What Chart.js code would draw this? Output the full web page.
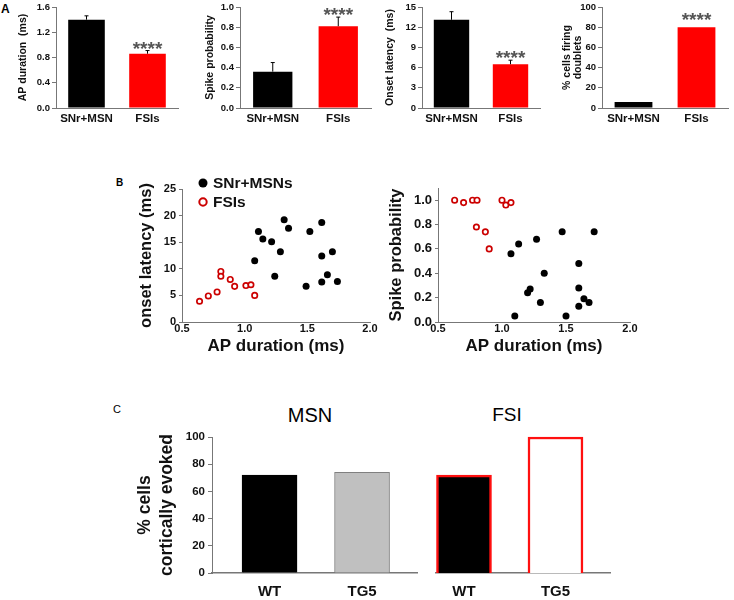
<!DOCTYPE html>
<html>
<head>
<meta charset="utf-8">
<script src="https://cdn.jsdelivr.net/npm/chart.js@4.4.1/dist/chart.umd.min.js"></script>
<style>
  body { margin: 0; background: #fff; }
  #fig { position: relative; width: 734px; height: 600px; font-family: "Liberation Sans", Arial, sans-serif; color: #000; }
  #fig canvas { position: absolute; }
  .tag { position: absolute; line-height: 1; }
</style>
</head>
<body>
<div id="fig">
  <div class="tag" style="left:1px;top:3px;font-size:12px;font-weight:bold">A</div>
  <div class="tag" style="left:116px;top:178px;font-size:10px;font-weight:bold">B</div>
  <div class="tag" style="left:113px;top:404px;font-size:11px">C</div>
  <div class="tag" style="left:260px;top:405px;width:100px;text-align:center;font-size:20px">MSN</div>
  <div class="tag" style="left:457px;top:405px;width:100px;text-align:center;font-size:19px">FSI</div>

  <canvas id="a1" width="185" height="130" style="left:0;top:0"></canvas>
  <canvas id="a2" width="190" height="130" style="left:185px;top:0"></canvas>
  <canvas id="a3" width="180" height="130" style="left:365px;top:0"></canvas>
  <canvas id="a4" width="189" height="130" style="left:545px;top:0"></canvas>
  <canvas id="b1" width="270" height="190" style="left:110px;top:175px"></canvas>
  <canvas id="b2" width="270" height="190" style="left:370px;top:175px"></canvas>
  <canvas id="c1" width="325" height="205" style="left:100px;top:395px"></canvas>
  <canvas id="c2" width="200" height="205" style="left:420px;top:395px"></canvas>
</div>
<script>
// ---- Panel A: group means, upward error bars, significance marks
const groupsA = ['SNr+MSN', 'FSIs'];
const apDuration = [1.40, 0.86];
const apDurationErr = [0.06, 0.05];
const spikeProb = [0.36, 0.81];
const spikeProbErr = [0.09, 0.09];
const onsetLatency = [13.1, 6.5];
const onsetLatencyErr = [1.2, 0.6];
const doublets = [6, 80];
const sigMarks = ['', '****'];

// ---- Panel B left: AP duration (ms) vs onset latency (ms)
const msnApL = [1.08, 1.11, 1.145, 1.215, 1.24, 1.285, 1.315, 1.35, 1.49, 1.52, 1.615, 1.615, 1.615, 1.66, 1.70, 1.74];
const msnOnset = [11.5, 17.0, 15.6, 15.1, 8.6, 13.2, 19.2, 17.6, 6.7, 17.0, 18.7, 12.4, 7.5, 8.9, 13.2, 7.6];
const fsiApL = [0.64, 0.71, 0.78, 0.81, 0.81, 0.885, 0.92, 1.01, 1.05, 1.08];
const fsiOnset = [3.9, 4.9, 5.65, 9.5, 8.6, 8.0, 6.7, 6.85, 7.0, 5.0];
const onsetTicks = [0, 5, 10, 15, 20, 25];

// ---- Panel B right: AP duration (ms) vs spike probability
const msnApR = [1.07, 1.13, 1.27, 1.47, 1.72, 1.60, 1.33, 1.20, 1.22, 1.30, 1.60, 1.64, 1.68, 1.60, 1.10, 1.50];
const msnSpike = [0.56, 0.64, 0.68, 0.74, 0.74, 0.48, 0.40, 0.24, 0.27, 0.16, 0.28, 0.19, 0.16, 0.13, 0.05, 0.05];
const fsiApR = [0.63, 0.70, 0.77, 0.805, 0.80, 0.87, 0.90, 1.00, 1.03, 1.07];
const fsiSpike = [1.00, 0.98, 1.00, 1.00, 0.78, 0.74, 0.60, 1.00, 0.96, 0.98];
const spikeTicks = [0, 0.2, 0.4, 0.6, 0.8, 1.0];

// ---- Panel C: % cells cortically evoked
const cGroups = ['WT', 'TG5'];
const cIndex = [1, 2];
const msnEvoked = [72, 74];
const fsiEvoked = [72, 100];

const FONT = '"Liberation Sans", Arial, sans-serif';
const AXIS = '#777';
const TEXT = '#111';

Chart.defaults.font.family = FONT;
Chart.defaults.color = TEXT;
Chart.defaults.plugins.legend.display = false;
Chart.defaults.plugins.tooltip.enabled = false;

// fixed axis sizes so the plot areas land where the figure has them
const fitW = w => s => { s.width = w; s.paddingTop = s.paddingBottom = s.paddingLeft = s.paddingRight = 0; };
const fitH = h => s => { s.height = h; s.paddingTop = s.paddingBottom = s.paddingLeft = s.paddingRight = 0; };

const bold = (size, lineHeight) => ({ size, weight: 'bold', lineHeight: lineHeight || 1.2 });

// error bars (upward only) + "****" marks
const errorBars = {
  id: 'errorBars',
  afterDatasetsDraw(chart) {
    const { ctx, scales: { y } } = chart;
    chart.data.datasets.forEach((ds, di) => {
      const meta = chart.getDatasetMeta(di);
      meta.data.forEach((bar, i) => {
        const err = ds.errors ? ds.errors[i] : 0;
        const top = y.getPixelForValue(ds.data[i] + err);
        ctx.save();
        if (err) {
          ctx.strokeStyle = '#000';
          ctx.lineWidth = 1;
          ctx.beginPath();
          ctx.moveTo(bar.x, bar.y);
          ctx.lineTo(bar.x, top);
          ctx.moveTo(bar.x - 2, top);
          ctx.lineTo(bar.x + 2, top);
          ctx.stroke();
        }
        if (ds.marks && ds.marks[i]) {
          ctx.fillStyle = '#555';
          ctx.font = 'bold 19px ' + FONT;
          ctx.textAlign = 'center';
          ctx.textBaseline = 'alphabetic';
          ctx.fillText(ds.marks[i], bar.x, top + 4 - (ds.markGap || 0));
        }
        ctx.restore();
      });
    });
  }
};

// marker legend drawn inside the plot, next to the top-left corner
const dotLegend = {
  id: 'dotLegend',
  afterDraw(chart, args, opts) {
    if (!opts.display) return;
    const { ctx, chartArea } = chart;
    ctx.save();
    ctx.font = 'bold 15.5px ' + FONT;
    ctx.textBaseline = 'middle';
    chart.data.datasets.forEach((ds, i) => {
      const x = chartArea.left + opts.x;
      const y = chartArea.top + opts.y + i * opts.gap;
      ctx.beginPath();
      ctx.arc(x, y, ds.pointRadius + 1, 0, Math.PI * 2);
      ctx.fillStyle = ds.pointBackgroundColor;
      ctx.fill();
      if (ds.pointBorderWidth) {
        ctx.lineWidth = ds.pointBorderWidth + 0.3;
        ctx.strokeStyle = ds.pointBorderColor;
        ctx.stroke();
      }
      ctx.fillStyle = TEXT;
      ctx.fillText(ds.label, x + 10, y + 1);
    });
    ctx.restore();
  }
};

function barPanel(id, o) {
  return new Chart(document.getElementById(id), {
    type: 'bar',
    data: {
      labels: groupsA,
      datasets: [{
        data: o.values,
        errors: o.errors,
        marks: sigMarks,
        markGap: o.markGap,
        backgroundColor: ['#000000', '#ff0000'],
        borderWidth: 0,
        barPercentage: 0.6,
        categoryPercentage: 1,
      }],
    },
    options: {
      responsive: false,
      animation: false,
      devicePixelRatio: 1,
      layout: { padding: { left: 0, right: o.padRight, top: 7, bottom: 0 } },
      scales: {
        x: {
          grid: { display: false, drawTicks: false },
          border: { color: AXIS },
          ticks: { padding: 4, color: TEXT, font: bold(11.5) },
          afterFit: fitH(22),
        },
        y: {
          min: 0,
          max: o.max,
          ticks: { stepSize: o.step, padding: 2, color: TEXT, font: bold(9.5), callback: o.fmt },
          grid: { drawOnChartArea: false, tickLength: 4, color: AXIS },
          border: { color: AXIS },
          title: {
            display: true,
            text: o.title,
            color: TEXT,
            padding: { top: o.titlePad, bottom: 0 },
            font: bold(10.5, o.titleLh),
          },
          afterFit: fitW(o.yWidth),
        },
      },
    },
    plugins: [errorBars],
  });
}

const oneDec = v => v.toFixed(1);
const intFmt = v => String(Math.round(v));

barPanel('a1', { values: apDuration, errors: apDurationErr, max: 1.6, step: 0.4, fmt: oneDec,
  title: 'AP duration  (ms)', titlePad: 17, yWidth: 56, padRight: 7 });
barPanel('a2', { values: spikeProb, errors: spikeProbErr, max: 1.0, step: 0.2, fmt: oneDec,
  title: 'Spike probability', titlePad: 19, yWidth: 55, padRight: 4 });
barPanel('a3', { values: onsetLatency, errors: onsetLatencyErr, max: 15, step: 3, fmt: intFmt,
  title: 'Onset latency  (ms)', titlePad: 19, yWidth: 57, padRight: 5 });
barPanel('a4', { values: doublets, errors: null, max: 100, step: 20, fmt: intFmt, markGap: 5,
  title: ['% cells firing', 'doublets'], titlePad: 16.5, titleLh: 1.05, yWidth: 57, padRight: 6 });

const toPoints = (xs, ys) => xs.map((x, i) => ({ x, y: ys[i] }));

function scatterPanel(id, o) {
  return new Chart(document.getElementById(id), {
    type: 'scatter',
    data: {
      datasets: [
        { label: 'SNr+MSNs', data: toPoints(o.msnX, o.msnY), pointRadius: 3.5,
          pointBackgroundColor: '#000', pointBorderColor: '#000', pointBorderWidth: 0, clip: false },
        { label: 'FSIs', data: toPoints(o.fsiX, o.fsiY), pointRadius: 2.7,
          pointBackgroundColor: '#fff', pointBorderColor: '#cc0000', pointBorderWidth: 1.7, clip: false },
      ],
    },
    options: {
      responsive: false,
      animation: false,
      devicePixelRatio: 1,
      layout: { padding: { left: 0, right: 10, top: o.padTop, bottom: 0 } },
      plugins: { dotLegend: o.legend || { display: false } },
      scales: {
        x: {
          type: 'linear',
          min: 0.5,
          max: 2.0,
          ticks: { stepSize: 0.5, padding: 0, color: TEXT, font: bold(11), callback: oneDec },
          grid: { display: false, drawTicks: false },
          border: { color: AXIS },
          title: { display: true, text: 'AP duration (ms)', color: TEXT, padding: { top: 0, bottom: 8 }, font: bold(17) },
          afterFit: fitH(43),
        },
        y: {
          min: 0,
          max: o.yMax,
          afterBuildTicks: s => { s.ticks = o.yTicks.map(v => ({ value: v })); },
          ticks: { padding: 3, color: TEXT, font: bold(o.yTickSize), callback: o.yFmt },
          grid: { drawOnChartArea: false, tickLength: 3, color: AXIS },
          border: { color: AXIS },
          title: { display: true, text: o.yTitle, color: TEXT, padding: { top: o.titlePad, bottom: 0 }, font: bold(16.5) },
          afterFit: fitW(o.yWidth),
        },
      },
    },
    plugins: [dotLegend],
  });
}

scatterPanel('b1', { msnX: msnApL, msnY: msnOnset, fsiX: fsiApL, fsiY: fsiOnset,
  yMax: 25, yTicks: onsetTicks, yFmt: intFmt, yTickSize: 11, yTitle: 'onset latency (ms)',
  titlePad: 27, yWidth: 72, padTop: 14,
  legend: { display: true, x: 21, y: -6, gap: 19 } });
scatterPanel('b2', { msnX: msnApR, msnY: msnSpike, fsiX: fsiApR, fsiY: fsiSpike,
  yMax: 1.1, yTicks: spikeTicks, yFmt: oneDec, yTickSize: 13, yTitle: 'Spike probability',
  titlePad: 17, yWidth: 68, padTop: 13 });

function evokedPanel(id, o) {
  return new Chart(document.getElementById(id), {
    type: 'bar',
    data: {
      datasets: [{
        data: toPoints(cIndex, o.values),
        backgroundColor: o.fill,
        borderColor: o.stroke,
        borderWidth: o.strokeWidth,
        barThickness: 55,
        clip: false,
      }],
    },
    options: {
      responsive: false,
      animation: false,
      devicePixelRatio: 1,
      layout: { padding: { left: o.padLeft, right: o.padRight, top: 42, bottom: 0 } },
      scales: {
        x: {
          type: 'linear',
          min: o.xMin,
          max: o.xMax,
          offset: false,
          afterBuildTicks: s => { s.ticks = cIndex.map(v => ({ value: v })); },
          ticks: { padding: 10, color: TEXT, font: bold(15), callback: (v, i) => cGroups[i] },
          grid: { display: false, drawTicks: false },
          border: { color: AXIS, width: 1.5 },
          afterFit: fitH(27),
        },
        y: {
          display: o.showY,
          min: 0,
          max: 100,
          ticks: { stepSize: 20, padding: 3, color: TEXT, font: bold(11.5) },
          grid: { drawOnChartArea: false, tickLength: 4, color: AXIS },
          border: { color: AXIS },
          title: {
            display: true,
            text: ['% cells', 'cortically evoked'],
            color: TEXT,
            padding: { top: 34, bottom: 0 },
            font: bold(17.5, 1.26),
          },
          afterFit: fitW(o.showY ? 112 : 0),
        },
      },
    },
  });
}

evokedPanel('c1', { values: msnEvoked, fill: ['#000000', '#c0c0c0'], stroke: ['#000000', '#808080'],
  strokeWidth: 1, showY: true, padLeft: 0, padRight: 8, xMin: 0.378, xMax: 2.594 });
evokedPanel('c2', { values: fsiEvoked, fill: ['#000000', '#ffffff'], stroke: ['#ff1010', '#ff1010'],
  strokeWidth: 2.5, showY: false, padLeft: 16, padRight: 10, xMin: 0.694, xMax: 2.596 });
</script>
</body>
</html>
